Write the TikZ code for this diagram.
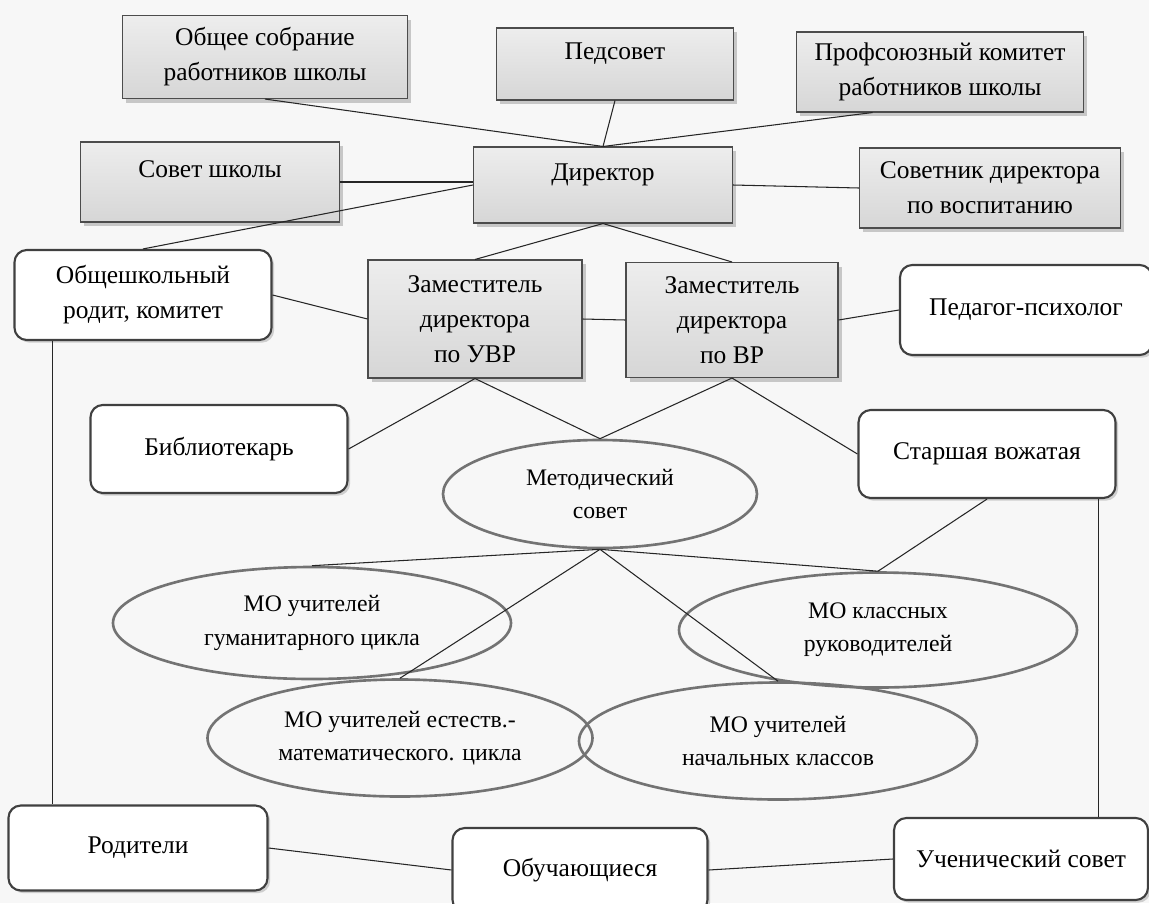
\documentclass[tikz,border=0pt]{standalone}
\usepackage{fontspec}
\setmainfont{Liberation Serif}
\usetikzlibrary{shapes.geometric,shadows}
\begin{document}
\begin{tikzpicture}[x=0.02cm, y=-0.02cm,
  sz/.style 2 args={minimum width=#1*0.02cm, minimum height=#2*0.02cm},
  box/.style={draw=black!70, line width=0.6pt, top color=gray!14, bottom color=gray!32, align=center, inner sep=2pt,
    drop shadow={shadow xshift=2pt, shadow yshift=-2.5pt, fill=black!40},
    font=\fontsize{14.5}{20}\selectfont},
  raised/.style={text depth=15pt},
  rbox/.style={draw=black!75, line width=1.2pt, rounded corners=7pt, fill=white, align=center, inner sep=2pt,
    drop shadow={shadow xshift=1.5pt, shadow yshift=-1.5pt, fill=black!35},
    font=\fontsize{14.5}{20}\selectfont},
  oval/.style={ellipse, draw=black!55, line width=1.5pt, align=center, inner sep=0pt,
    font=\fontsize{13.5}{19}\selectfont},
  ln/.style={black!85, line width=0.6pt}]
\useasboundingbox (0,0) rectangle (1149,903);
\clip (0,0) rectangle (1149,903);
\fill[gray!6] (0,0) rectangle (1149,903);

% administration
\node[box, sz={285}{83}] (obsh) at (265,57) {Общее собрание\\работников школы};
\node[box, raised, sz={237}{72}] (ped) at (615,64) {Педсовет};
\node[box, sz={287}{80}] (prof) at (940,72) {Профсоюзный комитет\\работников школы};
\node[box, raised, sz={259}{76}] (dir) at (603,185) {Директор};
\node[box, raised, sz={259}{80}] (sov) at (210,182) {Совет школы};
\node[box, sz={261}{80}] (adv) at (990,188) {Советник директора\\по воспитанию};
\node[rbox, sz={257}{90}] (rodkom) at (143,295) {Общешкольный\\родит, комитет};
\node[box, sz={214}{118}] (uvr) at (475,319) {Заместитель\\директора\\по УВР};
\node[box, sz={212}{115}] (vr) at (732,320) {Заместитель\\директора\\по ВР};
\node[rbox, sz={252}{90}] (psy) at (1026,310) {Педагог-психолог};
\node[rbox, sz={257}{88}] (bib) at (219,449) {Библиотекарь};
\node[rbox, sz={257}{88}] (vozh) at (987,454) {Старшая вожатая};

% methodical units
\node[oval, sz={314}{108}] (met) at (600,494) {Методический\\совет};
\node[oval, sz={398}{112}] (hum) at (312,623) {МО учителей\\гуманитарного цикла};
\node[oval, sz={398}{115}] (cls) at (878,630) {МО классных\\руководителей};
\node[oval, sz={385}{117}] (est) at (400,738) {МО учителей естеств.-\\математического. цикла};
\node[oval, sz={398}{117}] (nach) at (778,741) {МО учителей\\начальных классов};

% bottom row
\node[rbox, sz={259}{85}] (par) at (138,848) {Родители};
\node[rbox, sz={255}{84}] (pup) at (580,870) {Обучающиеся};
\node[rbox, sz={254}{82}] (uch) at (1021,859) {Ученический совет};

\draw[ln] (obsh.south) -- (dir.north);
\draw[ln] (ped.south) -- (dir.north);
\draw[ln] (prof.211) -- (dir.north);
\draw[ln] (sov.east) -- (sov.east -| dir.west);
\draw[ln] (rodkom.north) -- (dir.west);
\draw[ln] (dir.east) -- (adv.west);
\draw[ln] (dir.south) -- (uvr.north);
\draw[ln] (dir.south) -- (vr.north);
\draw[ln] (rodkom.east) -- (uvr.west);
\draw[ln] (uvr.east) -- (vr.west);
\draw[ln] (vr.east) -- (psy.west);
\draw[ln] (uvr.south) -- (bib.east);
\draw[ln] (uvr.south) -- (met.north);
\draw[ln] (vr.south) -- (met.north);
\draw[ln] (vr.south) -- (vozh.west);
\draw[ln] (vozh.south) -- (cls.north);
\draw[ln] (met.south) -- (hum.north);
\draw[ln] (met.south) -- (cls.north);
\draw[ln] (met.south) -- (est.north);
\draw[ln] (met.south) -- (nach.north);
\draw[ln] (rodkom.207) -- (rodkom.207 |- par.north);
\draw[ln] (vozh.338) -- (vozh.338 |- uch.north);
\draw[ln] (par.east) -- (pup.west);
\draw[ln] (pup.east) -- (uch.west);
\end{tikzpicture}
\end{document}
